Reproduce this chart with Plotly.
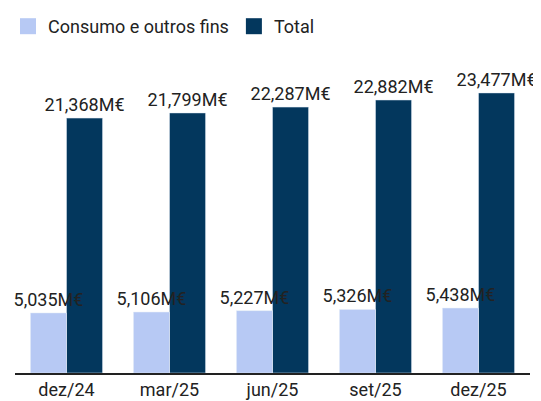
import plotly.graph_objects as go

periods = ['dez/24', 'mar/25', 'jun/25', 'set/25', 'dez/25']
consumo = [5035, 5106, 5227, 5326, 5438]
total = [21368, 21799, 22287, 22882, 23477]

light = '#b7c9f4'
dark = '#03375d'


def fmt(v):
    return '{:,}M€'.format(v)


fig = go.Figure()

# dark bars first so the light labels sit on top of them
fig.add_trace(go.Bar(
    x=periods,
    y=total,
    name='Total',
    text=[fmt(v) for v in total],
    textposition='outside',
    constraintext='none',
    cliponaxis=False,
    showlegend=False,
    width=0.35,
    offset=0,
    marker=dict(color=dark)
))
fig.add_trace(go.Bar(
    x=periods,
    y=consumo,
    name='Consumo e outros fins',
    text=[fmt(v) for v in consumo],
    textposition='outside',
    constraintext='none',
    cliponaxis=False,
    showlegend=False,
    width=0.35,
    offset=-0.35,
    marker=dict(color=light)
))

# legend entries with bigger square swatches
for name, col in [('Consumo e outros fins', light), ('Total', dark)]:
    fig.add_trace(go.Scatter(
        x=[None], y=[None], mode='markers', name=name,
        marker=dict(symbol='square', size=20, color=col)
    ))

fig.update_layout(
    width=533,
    height=393,
    barmode='overlay',
    plot_bgcolor='white',
    paper_bgcolor='white',
    font=dict(family='Roboto', size=18, color='#222222'),
    margin=dict(l=7, r=11, t=52, b=28),
    legend=dict(orientation='h', x=0, y=1.0, xanchor='left', yanchor='top',
                xref='container', yref='container', font=dict(size=18),
                itemsizing='trace', tracegroupgap=0),
    xaxis=dict(showline=True, linecolor='#222222', linewidth=1.5, ticks='',
               tickfont=dict(size=18), automargin=False),
    yaxis=dict(visible=False, range=[0, 26236], automargin=False),
)

fig.write_html("out.html")
